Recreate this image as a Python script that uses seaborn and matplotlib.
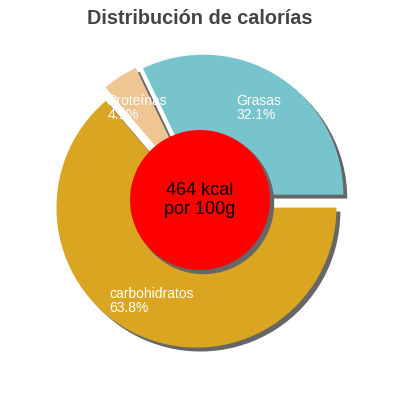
import matplotlib
matplotlib.use("Agg")
import matplotlib.pyplot as plt
import matplotlib.patches as mpatches
import seaborn as sns

sns.set_style("white")
plt.rcParams['font.family'] = ['Liberation Sans', 'DejaVu Sans']

# data
nutrientes = ['Grasas', 'Proteínas', 'carbohidratos']
porcentajes = [32.1, 4.1, 63.8]
colores = ['#77C4CD', '#EFC592', '#DAA520']
kcal = 464

fig = plt.figure(figsize=(4, 4), dpi=100)
ax = fig.add_axes([0, 0, 1, 1])

wedges, _ = ax.pie(porcentajes, colors=colores, startangle=0, counterclock=True,
                   radius=1.0, explode=[0.045, 0.05, 0.06],
                   shadow={'ox': 0.02, 'oy': -0.02, 'facecolor': '#666666',
                           'edgecolor': '#666666', 'alpha': 1.0},
                   wedgeprops={'linewidth': 0})

# red center circle with its shadow
circ = mpatches.Circle((0, 0), 0.5, facecolor='#FF0000', edgecolor='none', zorder=3)
sh = mpatches.Shadow(circ, 0.018, -0.018, facecolor='#666666', edgecolor='#666666', alpha=1.0)
sh.set_zorder(2.9)
ax.add_patch(sh)
ax.add_patch(circ)

ax.text(0, 0, f"{kcal} kcal\npor 100g", ha='center', va='center', fontsize=13,
        color='black', zorder=4, linespacing=1.15)

# labels
pos = {'Grasas': (0.26, 0.66), 'Proteínas': (-0.66, 0.66), 'carbohidratos': (-0.65, -0.72)}
for n, p in zip(nutrientes, porcentajes):
    x, y = pos[n]
    ax.text(x, y, f"{n}\n{p}%", ha='left', va='center', fontsize=10,
            color='white', zorder=5, linespacing=1.0)

lim = 200 / 140
ax.set_xlim(-lim, lim)
ax.set_ylim(-lim, lim)
ax.set_aspect('equal')
ax.axis('off')

fig.text(0.5, 0.955, 'Distribución de calorías', ha='center', va='center',
         fontsize=14.3, fontweight='bold', color='#444444')

fig.savefig('out.png', dpi=100)
